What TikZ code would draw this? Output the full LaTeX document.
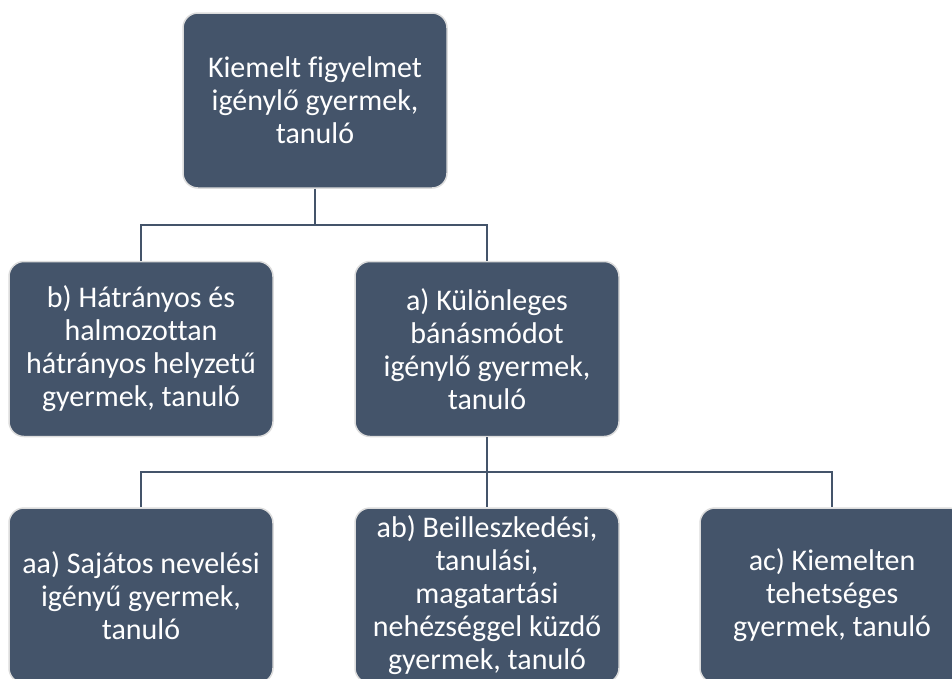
\documentclass[tikz,border=0pt]{standalone}
\usepackage{fontspec}
\setmainfont{Carlito}[Ligatures=NoCommon]
\definecolor{slate}{HTML}{44546A}
\definecolor{rim}{HTML}{DCDCDC}
\tikzset{
    kid/.style={draw=rim, line width=1.5pt, fill=slate, rounded corners=15pt,
        minimum width=264pt, minimum height=175pt, inner sep=4pt,
        text=white, align=center, font=\fontsize{30}{33}\selectfont},
    link/.style={draw=slate, line width=2pt}
}
\begin{document}
\begin{tikzpicture}[x=1pt, y=-1pt]
        \useasboundingbox (0, 0) rectangle (952, 678);
        \clip (0, 0) rectangle (952, 678);

        \node[kid] at (315, 100.5)(top){Kiemelt figyelmet\\igénylő gyermek,\\tanuló};

        \node[kid] at (141, 349)(b){b) Hátrányos és\\halmozottan\\hátrányos helyzetű\\gyermek, tanuló};
        \node[kid] at (487, 349)(a){a) Különleges\\bánásmódot\\igénylő gyermek,\\tanuló};

        \node[kid] at (141, 595.5)(aa){aa) Sajátos nevelési\\igényű gyermek,\\tanuló};
        \node[kid] at (487, 595.5)(ab){ab) Beilleszkedési,\\tanulási,\\magatartási\\nehézséggel küzdő\\gyermek, tanuló};
        \node[kid] at (832, 595.5)(ac){ac) Kiemelten\\tehetséges\\gyermek, tanuló};

        \coordinate (split1) at (315, 225);
        \coordinate (split2) at (487, 472);

        \draw[link](top.south) to (split1);
            \draw[link](split1) -| (b.north);
            \draw[link](split1) -| (a.north);
        \draw[link](a.south) to (split2);
            \draw[link](split2) -| (aa.north);
            \draw[link](split2) to (ab.north);
            \draw[link](split2) -| (ac.north);
    \end{tikzpicture}
\end{document}
